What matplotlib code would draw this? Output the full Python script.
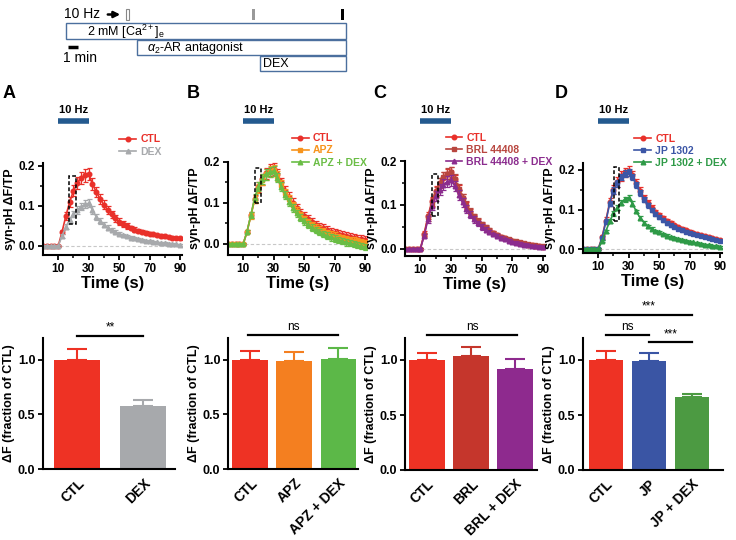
import numpy as np
import matplotlib.pyplot as plt
import matplotlib.transforms as mtransforms
from matplotlib.patches import Rectangle
from matplotlib.ticker import MultipleLocator, FormatStrFormatter

plt.rcParams['font.family'] = ['Liberation Sans', 'DejaVu Sans']
plt.rcParams['mathtext.fontset'] = 'custom'
plt.rcParams['mathtext.rm'] = 'Liberation Sans'
plt.rcParams['mathtext.it'] = 'Liberation Sans:italic'
plt.rcParams['mathtext.bf'] = 'Liberation Sans:bold'

# ---------------- data ----------------
# syn-pH dF/TP time courses, one sample every 2.5 s from 0 to 90 s
time_s = np.arange(0, 90.1, 2.5)

a_ctl = [0, 0, 0, 0, 0,
         0.035, 0.075, 0.110, 0.138, 0.158, 0.170, 0.177, 0.180,
         0.155, 0.135, 0.118, 0.103, 0.090, 0.079, 0.069, 0.061,
         0.055, 0.050, 0.045, 0.041, 0.038, 0.035, 0.033, 0.031,
         0.029, 0.027, 0.025, 0.024, 0.022, 0.021, 0.020, 0.019]
a_ctl_err = [0.002, 0.002, 0.002, 0.002, 0.002,
             0.006, 0.010, 0.012, 0.014, 0.015, 0.015, 0.016, 0.016,
             0.014, 0.013, 0.012, 0.011, 0.010, 0.009, 0.008, 0.008,
             0.007, 0.007, 0.006, 0.006, 0.005, 0.005, 0.005, 0.004,
             0.004, 0.004, 0.004, 0.003, 0.003, 0.003, 0.003, 0.003]
a_dex = [0, 0, 0, 0, 0,
         0.025, 0.048, 0.065, 0.080, 0.090, 0.098, 0.104, 0.107,
         0.090, 0.073, 0.062, 0.053, 0.046, 0.040, 0.035, 0.031,
         0.027, 0.024, 0.021, 0.019, 0.017, 0.015, 0.013, 0.012,
         0.010, 0.009, 0.008, 0.007, 0.006, 0.005, 0.004, 0.003]
a_dex_err = [0.002, 0.002, 0.002, 0.002, 0.002,
             0.004, 0.006, 0.007, 0.008, 0.009, 0.009, 0.010, 0.010,
             0.009, 0.008, 0.007, 0.006, 0.006, 0.005, 0.005, 0.004,
             0.004, 0.004, 0.003, 0.003, 0.003, 0.003, 0.003, 0.002,
             0.002, 0.002, 0.002, 0.002, 0.002, 0.002, 0.002, 0.002]

b_ctl = [0, 0, 0, 0, 0,
         0.030, 0.070, 0.110, 0.138, 0.158, 0.172, 0.180, 0.183,
         0.170, 0.150, 0.130, 0.115, 0.100, 0.087, 0.076, 0.068,
         0.060, 0.053, 0.047, 0.042, 0.038, 0.034, 0.030, 0.027,
         0.024, 0.021, 0.019, 0.017, 0.015, 0.013, 0.011, 0.009]
b_ctl_err = [0.002, 0.002, 0.002, 0.002, 0.002,
             0.004, 0.007, 0.010, 0.012, 0.013, 0.014, 0.014, 0.014,
             0.013, 0.012, 0.012, 0.011, 0.011, 0.010, 0.010, 0.010,
             0.010, 0.010, 0.010, 0.010, 0.010, 0.010, 0.010, 0.010,
             0.010, 0.010, 0.010, 0.010, 0.010, 0.010, 0.010, 0.010]
b_apz = [0, 0, 0, 0, 0,
         0.030, 0.068, 0.108, 0.136, 0.156, 0.170, 0.177, 0.180,
         0.166, 0.145, 0.125, 0.109, 0.094, 0.081, 0.070, 0.061,
         0.053, 0.046, 0.040, 0.035, 0.031, 0.027, 0.023, 0.020,
         0.017, 0.014, 0.012, 0.010, 0.008, 0.006, 0.004, 0.002]
b_apz_err = [0.002, 0.002, 0.002, 0.002, 0.002,
             0.004, 0.007, 0.009, 0.011, 0.012, 0.013, 0.013, 0.013,
             0.012, 0.011, 0.010, 0.010, 0.009, 0.009, 0.008, 0.008,
             0.008, 0.008, 0.008, 0.008, 0.008, 0.008, 0.008, 0.008,
             0.008, 0.008, 0.008, 0.008, 0.008, 0.008, 0.008, 0.008]
b_apz_dex = [0, 0, 0, 0, 0,
             0.030, 0.070, 0.112, 0.140, 0.158, 0.170, 0.176, 0.178,
             0.162, 0.140, 0.120, 0.103, 0.088, 0.075, 0.064, 0.055,
             0.047, 0.040, 0.034, 0.029, 0.024, 0.020, 0.016, 0.013,
             0.010, 0.007, 0.004, 0.002, 0.000, -0.003, -0.005, -0.008]
b_apz_dex_err = [0.002, 0.002, 0.002, 0.002, 0.002,
                 0.004, 0.007, 0.009, 0.011, 0.012, 0.013, 0.013, 0.013,
                 0.012, 0.011, 0.010, 0.010, 0.009, 0.009, 0.008, 0.008,
                 0.008, 0.008, 0.008, 0.008, 0.008, 0.008, 0.008, 0.008,
                 0.008, 0.008, 0.008, 0.008, 0.008, 0.008, 0.008, 0.008]

c_ctl = [0, 0, 0, 0, 0,
         0.035, 0.075, 0.108, 0.132, 0.150, 0.162, 0.170, 0.174,
         0.158, 0.135, 0.115, 0.098, 0.084, 0.072, 0.062, 0.054,
         0.047, 0.041, 0.036, 0.031, 0.027, 0.024, 0.021, 0.018,
         0.016, 0.014, 0.012, 0.010, 0.008, 0.007, 0.006, 0.005]
c_ctl_err = [0.002, 0.002, 0.002, 0.002, 0.002,
             0.005, 0.008, 0.010, 0.011, 0.012, 0.012, 0.012, 0.012,
             0.011, 0.010, 0.009, 0.008, 0.007, 0.006, 0.006, 0.005,
             0.005, 0.004, 0.004, 0.004, 0.003, 0.003, 0.003, 0.003,
             0.003, 0.003, 0.003, 0.003, 0.003, 0.003, 0.003, 0.003]
c_brl = [0, 0, 0, 0, 0,
         0.032, 0.072, 0.105, 0.130, 0.150, 0.163, 0.171, 0.175,
         0.160, 0.137, 0.117, 0.100, 0.086, 0.074, 0.064, 0.056,
         0.049, 0.043, 0.037, 0.032, 0.028, 0.025, 0.022, 0.019,
         0.017, 0.015, 0.013, 0.011, 0.009, 0.008, 0.007, 0.006]
c_brl_err = [0.002, 0.002, 0.002, 0.002, 0.002,
             0.005, 0.008, 0.010, 0.011, 0.012, 0.012, 0.012, 0.012,
             0.011, 0.010, 0.009, 0.008, 0.007, 0.006, 0.006, 0.005,
             0.005, 0.004, 0.004, 0.004, 0.003, 0.003, 0.003, 0.003,
             0.003, 0.003, 0.003, 0.003, 0.003, 0.003, 0.003, 0.003]
c_brl_dex = [0, 0, 0, 0, 0,
             0.030, 0.068, 0.098, 0.120, 0.135, 0.146, 0.153, 0.156,
             0.143, 0.123, 0.106, 0.091, 0.078, 0.067, 0.058, 0.050,
             0.044, 0.038, 0.033, 0.029, 0.025, 0.022, 0.019, 0.016,
             0.014, 0.012, 0.010, 0.009, 0.007, 0.006, 0.005, 0.004]
c_brl_dex_err = [0.002, 0.002, 0.002, 0.002, 0.002,
                 0.005, 0.008, 0.010, 0.012, 0.013, 0.013, 0.013, 0.013,
                 0.012, 0.011, 0.010, 0.009, 0.008, 0.007, 0.006, 0.006,
                 0.005, 0.005, 0.004, 0.004, 0.004, 0.003, 0.003, 0.003,
                 0.003, 0.003, 0.003, 0.003, 0.003, 0.003, 0.003, 0.003]

d_ctl = [0, 0, 0, 0, 0,
         0.030, 0.072, 0.118, 0.150, 0.170, 0.185, 0.194, 0.198,
         0.187, 0.167, 0.147, 0.130, 0.116, 0.104, 0.094, 0.086,
         0.078, 0.071, 0.065, 0.060, 0.055, 0.051, 0.047, 0.044,
         0.041, 0.038, 0.035, 0.032, 0.030, 0.027, 0.025, 0.022]
d_ctl_err = [0.002, 0.002, 0.002, 0.002, 0.002,
             0.005, 0.008, 0.010, 0.011, 0.012, 0.012, 0.012, 0.012,
             0.011, 0.010, 0.009, 0.008, 0.007, 0.007, 0.006, 0.006,
             0.005, 0.005, 0.005, 0.004, 0.004, 0.004, 0.004, 0.003,
             0.003, 0.003, 0.003, 0.003, 0.003, 0.003, 0.003, 0.003]
d_jp = [0, 0, 0, 0, 0,
        0.028, 0.069, 0.115, 0.148, 0.166, 0.182, 0.191, 0.194,
        0.182, 0.162, 0.142, 0.125, 0.111, 0.099, 0.089, 0.081,
        0.073, 0.066, 0.060, 0.055, 0.051, 0.047, 0.044, 0.041,
        0.038, 0.035, 0.032, 0.030, 0.027, 0.025, 0.022, 0.020]
d_jp_err = [0.002, 0.002, 0.002, 0.002, 0.002,
            0.004, 0.006, 0.007, 0.008, 0.008, 0.008, 0.008, 0.008,
            0.008, 0.007, 0.007, 0.006, 0.006, 0.005, 0.005, 0.004,
            0.004, 0.004, 0.003, 0.003, 0.003, 0.003, 0.003, 0.003,
            0.002, 0.002, 0.002, 0.002, 0.002, 0.002, 0.002, 0.002]
d_jp_dex = [0, 0, 0, 0, 0,
            0.020, 0.045, 0.070, 0.090, 0.105, 0.117, 0.126, 0.130,
            0.115, 0.095, 0.079, 0.067, 0.058, 0.051, 0.046, 0.042,
            0.038, 0.034, 0.031, 0.028, 0.025, 0.023, 0.021, 0.019,
            0.017, 0.015, 0.013, 0.011, 0.010, 0.008, 0.007, 0.005]
d_jp_dex_err = [0.002, 0.002, 0.002, 0.002, 0.002,
                0.003, 0.004, 0.005, 0.006, 0.006, 0.006, 0.006, 0.006,
                0.006, 0.005, 0.005, 0.004, 0.004, 0.004, 0.003, 0.003,
                0.003, 0.003, 0.003, 0.002, 0.002, 0.002, 0.002, 0.002,
                0.002, 0.002, 0.002, 0.002, 0.002, 0.002, 0.002, 0.002]

# normalised dF (fraction of CTL), mean and upper SEM
a_bar_labels = ['CTL', 'DEX']
a_bar_vals = [1.0, 0.575]
a_bar_errs = [0.095, 0.055]
b_bar_labels = ['CTL', 'APZ', 'APZ + DEX']
b_bar_vals = [1.0, 0.99, 1.01]
b_bar_errs = [0.085, 0.085, 0.10]
c_bar_labels = ['CTL', 'BRL', 'BRL + DEX']
c_bar_vals = [1.0, 1.04, 0.92]
c_bar_errs = [0.065, 0.08, 0.09]
d_bar_labels = ['CTL', 'JP', 'JP + DEX']
d_bar_vals = [1.0, 0.995, 0.66]
d_bar_errs = [0.08, 0.065, 0.03]

# ---------------- figure ----------------
W, H = 736, 540
fig = plt.figure(figsize=(W / 100, H / 100), dpi=100)


def px_axes(l, t, r, b):
    return fig.add_axes([l / W, 1 - b / H, (r - l) / W, (b - t) / H])


def style_axes(ax):
    for s in ['top', 'right']:
        ax.spines[s].set_visible(False)
    for s in ['left', 'bottom']:
        ax.spines[s].set_linewidth(1.5)
    ax.tick_params(which='major', width=1.3, length=3.5, pad=2)
    ax.tick_params(which='minor', width=1.1, length=2)


# schematic on top (pixel coordinates)
ax0 = fig.add_axes([0, 0, 1, 1])
ax0.set_xlim(0, W)
ax0.set_ylim(H, 0)
ax0.axis('off')
box_c = '#4b6f9e'
ax0.add_patch(Rectangle((66, 23), 280, 16, fill=False, ec=box_c, lw=1))
ax0.add_patch(Rectangle((137, 40), 209, 15, fill=False, ec=box_c, lw=1))
ax0.add_patch(Rectangle((260, 56), 86, 15, fill=False, ec=box_c, lw=1))
ax0.text(87, 31.5, r'2 mM [Ca$^{2+}$]$_\mathrm{e}$', va='center', fontsize=9)
ax0.text(147, 48, r'$\alpha_2$-AR antagonist', va='center', fontsize=9)
ax0.text(263, 64, 'DEX', va='center', fontsize=9)
ax0.text(64, 14.5, '10 Hz', va='center', fontsize=10)
ax0.annotate('', xy=(123, 14.5), xytext=(105, 14.5),
             arrowprops=dict(arrowstyle='-|>', color='black', lw=1.8,
                             mutation_scale=9))
ax0.add_patch(Rectangle((126, 9), 3, 11, fc='white', ec='#888888', lw=0.8))
ax0.add_patch(Rectangle((252, 9), 3, 11, fc='#999999', ec='none'))
ax0.add_patch(Rectangle((341, 9), 3, 11, fc='black', ec='none'))
ax0.plot([68, 78], [47, 47], color='black', lw=2.5, solid_capstyle='butt')
ax0.text(63, 58.5, '1 min', va='center', fontsize=10)

red = '#e9302a'
trace_panels = [
    dict(letter='A', lx=3, box=(43, 163, 182, 255), ylim=(-0.0225, 0.2075),
         series=[(a_ctl, a_ctl_err, red, 'o', 'CTL'),
                 (a_dex, a_dex_err, '#a7a9ac', '^', 'DEX')],
         leg=(0.55, 1.07), dash=(17.2, 0.055, 4.6, 0.12)),
    dict(letter='B', lx=187, box=(228, 162, 367, 255), ylim=(-0.027, 0.2),
         series=[(b_ctl, b_ctl_err, red, 'o', 'CTL'),
                 (b_apz, b_apz_err, '#f7941d', 's', 'APZ'),
                 (b_apz_dex, b_apz_dex_err, '#6abd45', '^', 'APZ + DEX')],
         leg=(0.46, 0.94), dash=(17.9, 0.10, 3.9, 0.085)),
    dict(letter='C', lx=373, box=(405, 161, 545, 256), ylim=(-0.016, 0.2),
         series=[(c_ctl, c_ctl_err, red, 'o', 'CTL'),
                 (c_brl, c_brl_err, '#b8463f', 's', 'BRL 44408'),
                 (c_brl_dex, c_brl_dex_err, '#8b2c8e', '^', 'BRL 44408 + DEX')],
         leg=(0.29, 0.94), dash=(17.9, 0.076, 3.9, 0.094)),
    dict(letter='D', lx=555, box=(583, 163, 722, 253), ylim=(-0.01, 0.2177),
         series=[(d_ctl, d_ctl_err, red, 'o', 'CTL'),
                 (d_jp, d_jp_err, '#3c56a6', 's', 'JP 1302'),
                 (d_jp_dex, d_jp_dex_err, '#2e9a47', '^', 'JP 1302 + DEX')],
         leg=(0.37, 0.945), dash=(20.5, 0.071, 3.3, 0.136)),
]

for p in trace_panels:
    l, t, r, b = p['box']
    ax = px_axes(l, t, r, b)
    style_axes(ax)
    ax.axhline(0, color='#c8c8c8', lw=0.8, ls=(0, (3, 2)), zorder=0)
    handles = []
    for y, e, color, marker, label in p['series']:
        ax.errorbar(time_s, y, yerr=e, fmt='none', ecolor=color,
                    elinewidth=0.9, capsize=1.8, capthick=0.9)
        h, = ax.plot(time_s, y, color=color, marker=marker, ms=3.3,
                     lw=1.2, label=label)
        handles.append(h)
    ax.set_xlim(0, 91.3)
    ax.set_ylim(*p['ylim'])
    ax.set_xticks([10, 30, 50, 70, 90])
    ax.set_xticks([20, 40, 60, 80], minor=True)
    ax.set_yticks([0, 0.1, 0.2])
    ax.yaxis.set_minor_locator(MultipleLocator(0.05))
    ax.yaxis.set_major_formatter(FormatStrFormatter('%.1f'))
    for lab in ax.get_xticklabels() + ax.get_yticklabels():
        lab.set_fontweight('bold')
        lab.set_fontsize(8.5)
    ax.set_xlabel('Time (s)', fontsize=12, fontweight='bold', labelpad=1)
    ax.set_ylabel('syn-pH \u0394F/TP', fontsize=9, fontweight='bold', labelpad=2)
    dx, dy, dw, dh = p['dash']
    ax.add_patch(Rectangle((dx, dy), dw, dh, fill=False, ec='black',
                           lw=1.1, ls=(0, (2.5, 1.5)), zorder=10))
    # 10 Hz stimulus bar
    trans = mtransforms.blended_transform_factory(ax.transData, ax.transAxes)
    ybar = (b - 121) / (b - t)
    ytxt = (b - 110) / (b - t)
    ax.plot([10, 30], [ybar, ybar], transform=trans, color='#245a8f', lw=4,
            solid_capstyle='butt', clip_on=False)
    ax.text(20, ytxt, '10 Hz', transform=trans, ha='center', va='center',
            fontsize=8, fontweight='bold')
    ax.legend(handles=handles, loc='lower left', bbox_to_anchor=p['leg'],
              frameon=False, prop={'weight': 'bold', 'size': 7.5},
              labelcolor='linecolor', handlelength=1.6, handletextpad=0.4,
              labelspacing=0.2, borderpad=0, borderaxespad=0)
    fig.text(p['lx'] / W, 1 - 93 / H, p['letter'], fontsize=13,
             fontweight='bold', va='center', ha='left')

bar_panels = [
    dict(box=(43, 338, 175, 469), xlim=(-0.52, 1.48), width=0.7,
         labels=a_bar_labels, vals=a_bar_vals, errs=a_bar_errs,
         colors=['#ee3224', '#a7a9ac'],
         sig=[(0, 1, 1.22, '**')]),
    dict(box=(228, 338, 358, 469), xlim=(-0.5, 2.45), width=0.8,
         labels=b_bar_labels, vals=b_bar_vals, errs=b_bar_errs,
         colors=['#ee3224', '#f47f20', '#5cb848'],
         sig=[(-0.05, 2.0, 1.23, 'ns')]),
    dict(box=(405, 338, 537, 470), xlim=(-0.5, 2.5), width=0.8,
         labels=c_bar_labels, vals=c_bar_vals, errs=c_bar_errs,
         colors=['#ee3224', '#c5362c', '#8e2a8e'],
         sig=[(0, 2.05, 1.23, 'ns')]),
    dict(box=(583, 338, 723, 470), xlim=(-0.53, 2.72), width=0.8,
         labels=d_bar_labels, vals=d_bar_vals, errs=d_bar_errs,
         colors=['#ee3224', '#3a55a4', '#4c9a42'],
         sig=[(0, 2.0, 1.41, '***'), (0, 1.0, 1.23, 'ns'),
              (1.0, 2.0, 1.16, '***')]),
]

for p in bar_panels:
    ax = px_axes(*p['box'])
    style_axes(ax)
    x = np.arange(len(p['vals']))
    ax.bar(x, p['vals'], width=p['width'], color=p['colors'], zorder=2)
    for xi, v, e, c in zip(x, p['vals'], p['errs'], p['colors']):
        ax.errorbar(xi, v, yerr=[[0], [e]], fmt='none', ecolor=c,
                    elinewidth=1.5, capsize=7, capthick=1.5, zorder=1)
    ax.set_xlim(*p['xlim'])
    ax.set_ylim(0, 1.2)
    ax.set_yticks([0, 0.5, 1.0])
    ax.yaxis.set_major_formatter(FormatStrFormatter('%.1f'))
    ax.set_xticks(x)
    ax.set_xticklabels(p['labels'], rotation=45, ha='right',
                       rotation_mode='anchor', fontsize=10, fontweight='bold')
    ax.tick_params(axis='x', length=0, pad=5)
    for lab in ax.get_yticklabels():
        lab.set_fontweight('bold')
        lab.set_fontsize(9)
    ax.set_ylabel('\u0394F (fraction of CTL)', fontsize=9, fontweight='bold',
                  labelpad=2)
    for x0, x1, ys, txt in p['sig']:
        ax.plot([x0, x1], [ys, ys], color='black', lw=1.6, clip_on=False)
        ax.text((x0 + x1) / 2, ys + 0.02, txt, ha='center', va='bottom',
                fontsize=8.5)

fig.savefig('out.png', dpi=100)
